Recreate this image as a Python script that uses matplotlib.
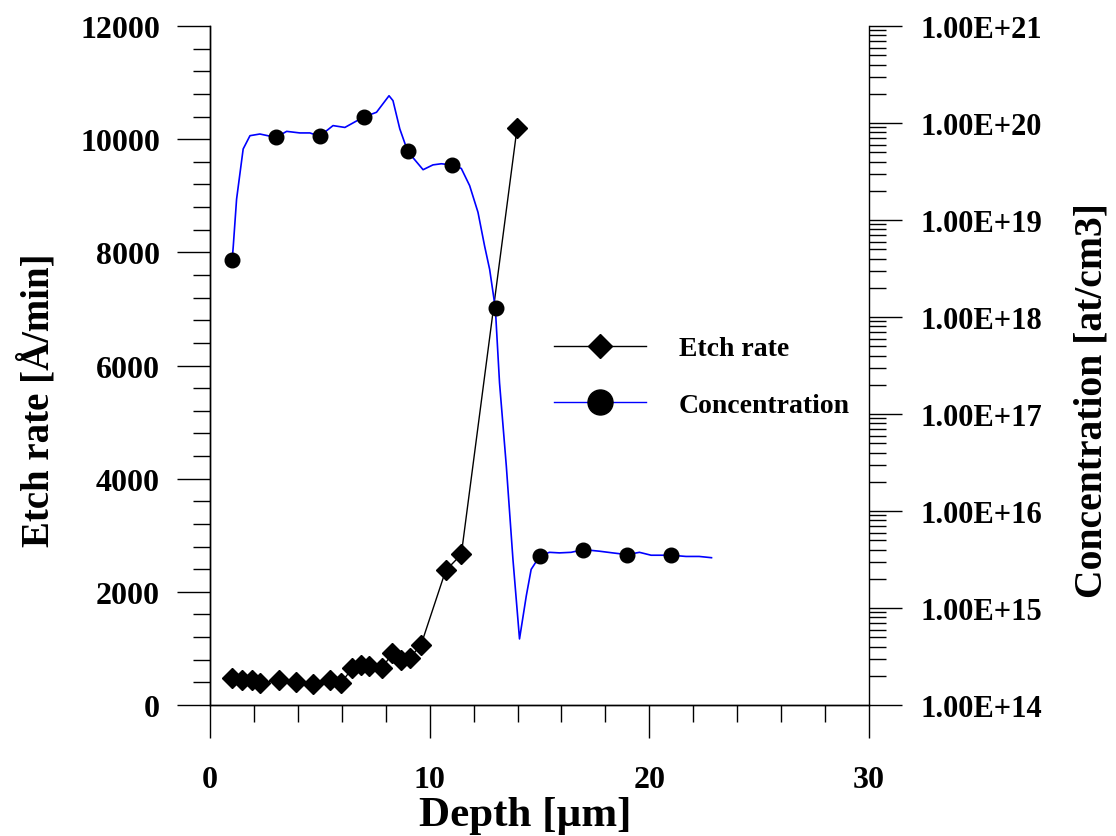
import numpy as np
import matplotlib
matplotlib.use("Agg")
import matplotlib.pyplot as plt
from matplotlib.lines import Line2D
from matplotlib.ticker import MultipleLocator, LogLocator, FuncFormatter, NullFormatter

plt.rcParams['font.family'] = ['Liberation Serif', 'DejaVu Serif']
plt.rcParams['font.weight'] = 'bold'

# etch rate measurements
etch_depth = [0.98, 1.47, 1.89, 2.27, 3.14, 3.91, 4.67, 5.45, 5.95, 6.48, 6.89,
              7.24, 7.83, 8.30, 8.68, 9.09, 9.61, 10.73, 11.44, 13.98]
etch_rate = [472, 448, 442, 389, 437, 401, 372, 442, 384, 649, 708,
             696, 649, 915, 802, 826, 1067, 2378, 2660, 10200]

# concentration profile (blue curve)
prof_depth = [1.01, 1.06, 1.21, 1.51, 1.82, 2.27, 3.0, 3.49, 4.09, 4.55, 4.99,
              5.60, 6.14, 6.99, 7.58, 8.15, 8.33, 8.64, 9.0, 9.70, 10.15, 10.53,
              10.99, 11.44, 11.82, 12.20, 12.5, 12.73, 12.99, 13.18, 13.49, 13.79,
              14.09, 14.40, 14.62, 15.0, 15.45, 15.91, 16.44, 17.0, 17.73, 18.33,
              18.99, 19.55, 20.08, 20.99, 21.67, 22.27, 22.83]
prof_conc = [3.9e18, 5.4e18, 1.64e19, 5.4e19, 7.4e19, 7.7e19, 7.1e19, 8.2e19, 7.9e19, 7.9e19, 7.3e19,
             9.4e19, 9.0e19, 1.15e20, 1.29e20, 1.91e20, 1.70e20, 8.7e19, 5.1e19, 3.3e19, 3.7e19, 3.8e19,
             3.7e19, 3.4e19, 2.26e19, 1.2e19, 5.4e18, 3.1e18, 1.23e18, 2.1e17, 2.9e16, 3.2e15,
             4.8e14, 1.34e15, 2.5e15, 3.4e15, 3.75e15, 3.7e15, 3.75e15, 4.0e15, 3.85e15, 3.7e15,
             3.55e15, 3.75e15, 3.5e15, 3.5e15, 3.4e15, 3.4e15, 3.3e15]

# sampled points on the profile (black circles)
samp_depth = [1, 3, 5, 7, 9, 11, 13, 15, 17, 19, 21]
samp_conc = [3.9e18, 7.1e19, 7.3e19, 1.15e20, 5.1e19, 3.7e19, 1.23e18, 3.4e15, 4.0e15, 3.55e15, 3.5e15]

fig = plt.figure(figsize=(11.16, 8.37), dpi=100)
ax = fig.add_axes([210/1116, 1-706/837, 659/1116, 679/837])
ax2 = ax.twinx()

ax.plot(etch_depth, etch_rate, color='black', lw=1.0, marker='D', ms=10.5,
        mfc='black', mec='black', zorder=3)
ax2.plot(prof_depth, prof_conc, color='#0000ff', lw=1.2, zorder=2,
         solid_joinstyle='round')
ax2.plot(samp_depth, samp_conc, ls='none', marker='o', ms=10.5, color='black', zorder=3)

ax.set_xlim(0, 30)
ax.set_ylim(0, 12000)
ax2.set_yscale('log')
ax2.set_ylim(1e14, 1e21)

ax.xaxis.set_major_locator(MultipleLocator(10))
ax.xaxis.set_minor_locator(MultipleLocator(2))
ax.yaxis.set_major_locator(MultipleLocator(2000))
ax.yaxis.set_minor_locator(MultipleLocator(400))
ax2.yaxis.set_major_locator(LogLocator(base=10, numticks=20))
ax2.yaxis.set_minor_locator(LogLocator(base=10, subs=np.arange(2, 10), numticks=20))
ax2.yaxis.set_minor_formatter(NullFormatter())
ax2.yaxis.set_major_formatter(FuncFormatter(lambda v, p: f"{v:.2E}"))

for a in (ax, ax2):
    a.spines['top'].set_visible(False)
    for s in a.spines.values():
        s.set_linewidth(1.0)
ax.spines['right'].set_visible(False)

ax.tick_params(axis='both', which='major', direction='out', length=24, width=1.0,
               labelsize=23)
ax.tick_params(axis='both', which='minor', direction='out', length=12, width=1.0)
ax.tick_params(axis='x', which='major', pad=19)
ax.tick_params(axis='y', which='major', pad=12)
ax2.tick_params(axis='y', which='major', direction='out', length=24, width=1.0,
                labelsize=22, pad=13)
ax2.tick_params(axis='y', which='minor', direction='out', length=12, width=1.0)
for lab in ax.get_xticklabels() + ax.get_yticklabels() + ax2.get_yticklabels():
    lab.set_fontweight('bold')

ax.set_xlabel('Depth [µm]', fontsize=31, fontweight='bold')
ax.set_ylabel('Etch rate [Å/min]', fontsize=28, fontweight='bold')
ax2.set_ylabel('Concentration [at/cm3]', fontsize=28.5, fontweight='bold')
ax.xaxis.set_label_coords(0.478, -0.134)
ax.yaxis.set_label_coords(-0.231, 0.45)
ax2.yaxis.set_label_coords(1.31, 0.45)

handles = [Line2D([], [], color='black', lw=1.0, marker='D', ms=12, mfc='black', mec='black'),
           Line2D([], [], color='#0000ff', lw=1.0, marker='o', ms=18, mfc='black', mec='black')]
leg = ax2.legend(handles, ['Etch rate', 'Concentration'], loc='center left',
                 bbox_to_anchor=((540-210)/659, (706-378)/679), frameon=False,
                 prop={'size': 20, 'weight': 'bold'}, handlelength=3.3,
                 handletextpad=1.2, labelspacing=1.13, borderpad=0)

fig.savefig('out.png', dpi=100)
